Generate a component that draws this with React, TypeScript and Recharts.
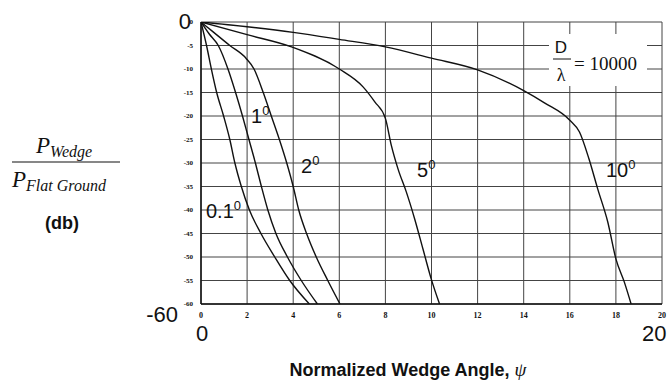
import React from 'react'
import { LineChart, Line, XAxis, YAxis, CartesianGrid } from 'recharts'

// normalized wedge angle (psi) vs relative power (dB), one pair of arrays per curve
const psi01 = [0, 0.24, 0.45, 0.68, 0.98, 1.25, 1.47, 1.75, 2.1, 2.6, 3.2, 3.85, 4.7]
const db01 = [0, -5, -10, -15, -20, -25, -30, -35, -40, -45, -50, -55, -60]

const psi1 = [0, 0.35, 0.75, 1.17, 1.5, 1.8, 2.08, 2.36, 2.62, 2.9, 3.25, 3.75, 4.35, 5.05]
const db1 = [0, -2.5, -5, -10, -15, -20, -25, -30, -35, -40, -45, -50, -55, -60]

const psi2 = [0, 0.5, 1.25, 1.95, 2.3, 2.7, 3.05, 3.4, 3.72, 4.0, 4.24, 4.58, 5.0, 5.5, 6.03]
const db2 = [0, -2, -5, -7.7, -10, -15, -20, -25, -30, -35, -40, -45, -50, -55, -60]

const psi5 = [0, 2, 3.93, 6, 7.03, 7.54, 8, 8.26, 8.55, 8.91, 9.27, 9.63, 9.99, 10.35]
const db5 = [0, -2.7, -5.3, -10, -13.8, -17, -20.5, -26.3, -31.3, -36.2, -41.9, -48.3, -54.7, -60]

const psi10 = [0, 2, 4, 6, 8, 10, 12, 14, 14.9, 16, 16.42, 16.83, 17.21, 17.65, 18.0, 18.37, 18.66]
const db10 = [0, -1, -2.2, -3.7, -5.3, -7.7, -10.2, -14.6, -17.2, -20.9, -23.4, -29.1, -35.5, -42.6, -50.4, -55.4, -60]

const xTicks = [0, 2, 4, 6, 8, 10, 12, 14, 16, 18, 20]
const yTicks = [0, -5, -10, -15, -20, -25, -30, -35, -40, -45, -50, -55, -60]

const toPoints = (xs: number[], ys: number[]) => xs.map((x, i) => ({ x, y: ys[i] }))

const curves = [
  { name: '0.1', data: toPoints(psi01, db01) },
  { name: '1', data: toPoints(psi1, db1) },
  { name: '2', data: toPoints(psi2, db2) },
  { name: '5', data: toPoints(psi5, db5) },
  { name: '10', data: toPoints(psi10, db10) },
]

const sans = 'Liberation Sans, Arial, sans-serif'
const serif = 'Liberation Serif, Times New Roman, serif'
const tickStyle = { fill: '#111', fontSize: 8, fontFamily: serif, fontWeight: 700 }

function Deg({ x, y, v }: { x: number; y: number; v: string }) {
  return (
    <text x={x} y={y} fontFamily={sans} fontSize={20} fill="#111">
      {v}
      <tspan fontSize={13} dy={-8} fill="#111">0</tspan>
    </text>
  )
}

export default function App() {
  return (
    <div style={{ position: 'absolute', left: 0, top: 0, width: 670, height: 383, background: '#fff' }}>
      <LineChart width={670} height={383} margin={{ top: 22, right: 8, left: 183, bottom: 61 }}>
        <CartesianGrid stroke="#444" strokeWidth={1} horizontalValues={yTicks} verticalValues={xTicks} />
        <XAxis
          type="number"
          dataKey="x"
          domain={[0, 20]}
          ticks={xTicks}
          height={18}
          tick={tickStyle}
          tickLine={false}
          axisLine={{ stroke: '#111', strokeWidth: 1.5 }}
          allowDataOverflow
        />
        <YAxis
          type="number"
          dataKey="y"
          domain={[-60, 0]}
          ticks={yTicks}
          width={18}
          tick={{ ...tickStyle, fontSize: 7 }}
          tickLine={false}
          axisLine={{ stroke: '#111', strokeWidth: 1.5 }}
          allowDataOverflow
        />
        {curves.map((c) => (
          <Line
            key={c.name}
            data={c.data}
            dataKey="y"
            type="monotone"
            stroke="#111"
            strokeWidth={1.4}
            dot={false}
            isAnimationActive={false}
          />
        ))}
      </LineChart>

      <svg
        width={670}
        height={383}
        style={{ position: 'absolute', left: 0, top: 0, pointerEvents: 'none' }}
      >
        {/* y axis title */}
        <text x={36} y={153} fontFamily={serif} fontStyle="italic" fontSize={23} fill="#111">
          P<tspan fontSize={16} dy={4}>Wedge</tspan>
        </text>
        <line x1={12} x2={120} y1={162} y2={162} stroke="#111" strokeWidth={1.2} />
        <text x={12} y={187} fontFamily={serif} fontStyle="italic" fontSize={23} fill="#111">
          P<tspan fontSize={16} dy={4}>Flat Ground</tspan>
        </text>
        <text x={62} y={229} textAnchor="middle" fontFamily={sans} fontWeight={700} fontSize={18} fill="#111">
          (db)
        </text>

        {/* big range labels */}
        <text x={191} y={29} textAnchor="end" fontFamily={sans} fontSize={22} fill="#111">0</text>
        <text x={178} y={322} textAnchor="end" fontFamily={sans} fontSize={22} fill="#111">-60</text>
        <text x={196} y={341} fontFamily={sans} fontSize={22} fill="#111">0</text>
        <text x={642} y={341} fontFamily={sans} fontSize={22} fill="#111">20</text>

        <text x={408} y={376} textAnchor="middle" fontFamily={sans} fontWeight={700} fontSize={18} fill="#111">
          Normalized Wedge Angle, <tspan fontFamily={serif} fontStyle="italic" fontWeight={400} fontSize={19}>ψ</tspan>
        </text>

        {/* curve labels */}
        <Deg x={251} y={123} v="1" />
        <Deg x={301} y={173} v="2" />
        <Deg x={206} y={218} v="0.1" />
        <Deg x={417} y={177} v="5" />
        <Deg x={606} y={177} v="10" />

        {/* D / lambda note */}
        <rect x={549} y={34} width={98} height={52} fill="#fff" />
        <text x={561} y={53} textAnchor="middle" fontFamily={sans} fontSize={17} fill="#111">D</text>
        <line x1={553} x2={571} y1={59} y2={59} stroke="#111" strokeWidth={1} />
        <text x={561} y={81} textAnchor="middle" fontFamily={serif} fontSize={18} fill="#111">λ</text>
        <text x={574} y={70} fontFamily={serif} fontSize={19} fill="#111">= 10000</text>
      </svg>
    </div>
  )
}
